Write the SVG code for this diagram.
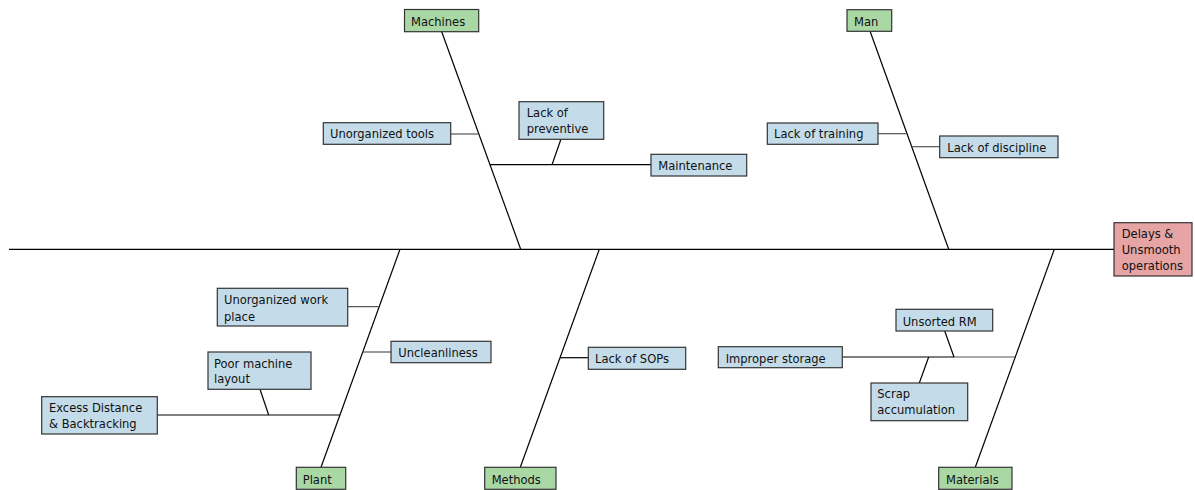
<svg xmlns="http://www.w3.org/2000/svg" width="1195" height="490" viewBox="0 0 1195 490">
<style>
.cat{fill:#a9d8a5;stroke:#333;stroke-width:1.2}
.cause{fill:#c4dce9;stroke:#333;stroke-width:1.2}
.eff{fill:#e6a4a4;stroke:#333;stroke-width:1.2}
text{font-family:"DejaVu Sans Condensed","DejaVu Sans",sans-serif;font-size:12.8px;fill:#111}
.ln{stroke:#000;stroke-width:1.2;fill:none}
.gl{stroke:#555;stroke-width:1.2;fill:none}
</style>
<rect width="1195" height="490" fill="#fff"/>
<g id="connectors">
<line class="ln" x1="9" y1="249.3" x2="1114" y2="249.3"/>
<line class="ln" x1="441.7" y1="31.7" x2="520.7" y2="249.3"/>
<line class="ln" x1="870" y1="31" x2="948.7" y2="249.3"/>
<line class="ln" x1="400" y1="249.3" x2="321" y2="467.3"/>
<line class="ln" x1="599.3" y1="249.3" x2="520.3" y2="467.3"/>
<line class="ln" x1="1054.3" y1="249.3" x2="975.3" y2="467.3"/>
<line class="gl" x1="451" y1="134" x2="478.5" y2="134"/>
<line class="ln" x1="490" y1="164.7" x2="651" y2="164.7"/>
<line class="ln" x1="561" y1="139" x2="552" y2="164.7"/>
<line class="gl" x1="878" y1="133.7" x2="907" y2="133.7"/>
<line class="gl" x1="911.8" y1="146.7" x2="939.7" y2="146.7"/>
<line class="gl" x1="347.7" y1="306.7" x2="379.1" y2="306.7"/>
<line class="gl" x1="362.7" y1="352" x2="391" y2="352"/>
<line class="ln" x1="157.3" y1="415" x2="339.8" y2="415"/>
<line class="ln" x1="260" y1="389.3" x2="268.7" y2="415"/>
<line class="ln" x1="560" y1="357.7" x2="588.3" y2="357.7"/>
<line class="ln" x1="842.3" y1="357" x2="954" y2="357"/>
<line class="gl" x1="954" y1="357" x2="1015" y2="357"/>
<line class="ln" x1="944.7" y1="331" x2="954" y2="357"/>
<line class="ln" x1="919.3" y1="383" x2="928.7" y2="357"/>
</g>
<g id="effect"><rect class="eff" x="1114" y="222.7" width="78" height="53.3"/><text x="1121.7" y="238.3">Delays &amp;</text><text x="1121.7" y="254.3">Unsmooth</text><text x="1121.7" y="270.3">operations</text></g>
<g id="machines"><rect class="cat" x="404.5" y="9.5" width="74.2" height="22.2"/><text x="411" y="25.7">Machines</text></g>
<g id="man"><rect class="cat" x="847" y="9.7" width="44.7" height="21.6"/><text x="854" y="25.7">Man</text></g>
<g id="plant"><rect class="cat" x="296.3" y="467.3" width="49.4" height="22"/><text x="302.7" y="484">Plant</text></g>
<g id="methods"><rect class="cat" x="484.7" y="467.3" width="71.3" height="22"/><text x="491.7" y="484">Methods</text></g>
<g id="materials"><rect class="cat" x="938.7" y="467.3" width="73.3" height="22"/><text x="946" y="484">Materials</text></g>
<g id="unorganized-tools"><rect class="cause" x="323.3" y="122.7" width="127.4" height="21.6"/><text x="330" y="138.3">Unorganized tools</text></g>
<g id="lack-of-preventive"><rect class="cause" x="519" y="101.7" width="84.7" height="37.6"/><text x="526.7" y="117.3">Lack of</text><text x="526.7" y="133.3">preventive</text></g>
<g id="maintenance"><rect class="cause" x="651" y="154.3" width="95.7" height="21.7"/><text x="658.3" y="170">Maintenance</text></g>
<g id="lack-of-training"><rect class="cause" x="767.3" y="123" width="110.7" height="21.3"/><text x="774" y="138.3">Lack of training</text></g>
<g id="lack-of-discipline"><rect class="cause" x="939.7" y="136" width="118.3" height="21.7"/><text x="947.3" y="152">Lack of discipline</text></g>
<g id="unorganized-work-place"><rect class="cause" x="217.3" y="288.3" width="130.4" height="37.7"/><text x="224" y="304.3">Unorganized work</text><text x="224" y="320.7">place</text></g>
<g id="uncleanliness"><rect class="cause" x="391" y="341.3" width="100" height="21.4"/><text x="398.3" y="357.3">Uncleanliness</text></g>
<g id="poor-machine-layout"><rect class="cause" x="208" y="352" width="103" height="37.3"/><text x="214" y="367.7">Poor machine</text><text x="214" y="383.3">layout</text></g>
<g id="excess-distance"><rect class="cause" x="41.7" y="396.7" width="115.6" height="37.3"/><text x="49" y="412.3">Excess Distance</text><text x="49" y="428.3">&amp; Backtracking</text></g>
<g id="lack-of-sops"><rect class="cause" x="588.3" y="347.3" width="97.4" height="22"/><text x="595" y="363.3">Lack of SOPs</text></g>
<g id="unsorted-rm"><rect class="cause" x="896" y="309.3" width="96.7" height="21.7"/><text x="902.7" y="326">Unsorted RM</text></g>
<g id="improper-storage"><rect class="cause" x="718.3" y="346.7" width="124" height="21"/><text x="725.7" y="362.7">Improper storage</text></g>
<g id="scrap-accumulation"><rect class="cause" x="871" y="383" width="96.7" height="37.7"/><text x="877.3" y="398.3">Scrap</text><text x="877.3" y="414">accumulation</text></g>
</svg>
